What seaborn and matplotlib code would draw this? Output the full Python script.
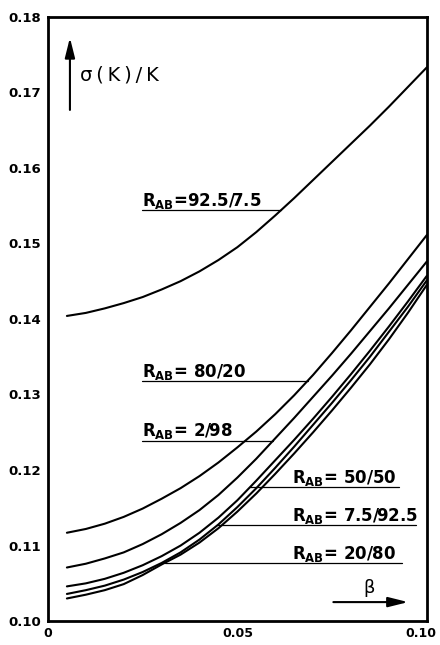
import matplotlib
matplotlib.use("Agg")
import matplotlib.pyplot as plt
import matplotlib.transforms as mtransforms
import numpy as np
import pandas as pd
import seaborn as sns

# beta grid and sigma(K)/K for each R_AB curve
BETA = [0.005, 0.010, 0.015, 0.020, 0.025, 0.030, 0.035, 0.040, 0.045, 0.050,
        0.055, 0.060, 0.065, 0.070, 0.075, 0.080, 0.085, 0.090, 0.095, 0.100]
R_92_5_7_5 = [0.1404, 0.1408, 0.1414, 0.1421, 0.1429, 0.1439, 0.1450, 0.1463, 0.1478, 0.1495,
              0.1515, 0.1537, 0.1560, 0.1584, 0.1608, 0.1632, 0.1656, 0.1681, 0.1707, 0.1733]
R_80_20 = [0.1117, 0.1122, 0.1129, 0.1138, 0.1149, 0.1162, 0.1176, 0.1192, 0.1210, 0.1230,
           0.1251, 0.1274, 0.1299, 0.1326, 0.1355, 0.1385, 0.1416, 0.1447, 0.1479, 0.1511]
R_2_98 = [0.1071, 0.1076, 0.1083, 0.1091, 0.1102, 0.1115, 0.1130, 0.1147, 0.1167, 0.1190,
          0.1215, 0.1242, 0.1269, 0.1297, 0.1325, 0.1354, 0.1384, 0.1414, 0.1445, 0.1476]
R_50_50 = [0.1046, 0.1050, 0.1056, 0.1064, 0.1074, 0.1086, 0.1100, 0.1117, 0.1137, 0.1160,
           0.1186, 0.1213, 0.1240, 0.1268, 0.1297, 0.1327, 0.1358, 0.1390, 0.1423, 0.1457]
R_7_5_92_5 = [0.1036, 0.1041, 0.1047, 0.1055, 0.1065, 0.1077, 0.1091, 0.1108, 0.1128, 0.1151,
              0.1176, 0.1203, 0.1231, 0.1260, 0.1289, 0.1319, 0.1350, 0.1383, 0.1416, 0.1451]
R_20_80 = [0.1030, 0.1035, 0.1041, 0.1049, 0.1061, 0.1075, 0.1088, 0.1104, 0.1123, 0.1145,
           0.1169, 0.1195, 0.1222, 0.1250, 0.1279, 0.1309, 0.1340, 0.1373, 0.1408, 0.1445]

CURVE_NAMES = ["92.5/7.5", "80/20", "2/98", "50/50", "7.5/92.5", "20/80"]
CURVES = [R_92_5_7_5, R_80_20, R_2_98, R_50_50, R_7_5_92_5, R_20_80]

# height (sigma/K) where each label's underline meets its curve
LABEL_Y = [0.1544, 0.1318, 0.1239, 0.1177, 0.1127, 0.1077]
LABEL_TEXT = [
    r"$\mathbf{R_{AB}}$=92.5/7.5",
    r"$\mathbf{R_{AB}}$= 80/20",
    r"$\mathbf{R_{AB}}$= 2/98",
    r"$\mathbf{R_{AB}}$= 50/50",
    r"$\mathbf{R_{AB}}$= 7.5/92.5",
    r"$\mathbf{R_{AB}}$= 20/80",
]
Y_TICKS = [0.10, 0.11, 0.12, 0.13, 0.14, 0.15, 0.16, 0.17, 0.18]
X_TICKS = [0.0, 0.01, 0.02, 0.03, 0.04, 0.05, 0.06, 0.07, 0.08, 0.09, 0.10]
X_TICK_LABELS = ["0", "", "", "", "", "0.05", "", "", "", "", "0.10"]

sns.set_theme(style="white")
plt.rcParams.update({
    "font.family": "DejaVu Sans",
    "mathtext.fontset": "dejavusans",
    "axes.unicode_minus": False,
})

rows = []
for name, vals in zip(CURVE_NAMES, CURVES):
    for b, v in zip(BETA, vals):
        rows.append({"beta": b, "ratio": v, "R_AB": name})
df = pd.DataFrame(rows)

fig = plt.figure(figsize=(4.4, 6.45), dpi=100)
ax = fig.add_axes([0.109, 0.037, 0.861, 0.937])

sns.lineplot(data=df, x="beta", y="ratio", hue="R_AB", palette=["black"] * 6,
             linewidth=1.5, legend=False, sort=True, estimator=None, ax=ax)

ax.set_xlim(0.0, 0.10)
ax.set_ylim(0.10, 0.18)
ax.set_xticks(X_TICKS)
ax.set_xticklabels(X_TICK_LABELS)
ax.set_yticks(Y_TICKS)
ax.set_yticklabels([f"{t:.2f}" for t in Y_TICKS])
ax.set_xlabel("")
ax.set_ylabel("")
ax.tick_params(axis="both", direction="in", length=5, width=1.5, color="black",
               labelsize=9.5, labelcolor="black")
ax.tick_params(axis="y", pad=5)
ax.tick_params(axis="x", pad=4.5, labelsize=9)
for lab in ax.get_xticklabels() + ax.get_yticklabels():
    lab.set_fontweight("bold")
# keep the last x label inside the canvas
last = ax.get_xticklabels()[-1]
last.set_transform(last.get_transform()
                   + mtransforms.ScaledTranslation(-4 / 72, 0, fig.dpi_scale_trans))
for sp in ax.spines.values():
    sp.set_color("black")
    sp.set_linewidth(2.0)

# labels with underlines reaching to the curve
left_start = 0.0249
right_start = 0.0643
right_ends = [None, None, None, 0.0926, 0.0971, 0.0934]
for i, (txt, y) in enumerate(zip(LABEL_TEXT, LABEL_Y)):
    meet = float(np.interp(y, CURVES[i], BETA))
    if right_ends[i] is None:
        x0, x1, tx = left_start, meet, left_start
    else:
        x0, x1, tx = meet, right_ends[i], right_start
    ax.plot([x0, x1], [y, y], color="black", linewidth=0.9)
    ax.annotate(txt, xy=(tx, y), xytext=(0, 3), textcoords="offset points",
                ha="left", va="baseline", fontsize=12, fontweight="bold", color="black")

# axis arrows
ax.annotate("", xy=(0.0058, 0.1776), xytext=(0.0058, 0.1673),
            arrowprops=dict(arrowstyle="-|>,head_length=1.0,head_width=0.25",
                            mutation_scale=12, lw=1.5, color="black"))
ax.text(0.0085, 0.1723, "σ\u2009(\u2009K\u2009)\u2009/\u2009K", fontsize=14,
        va="center", ha="left", color="black")
ax.annotate("", xy=(0.0958, 0.10252), xytext=(0.0746, 0.10252),
            arrowprops=dict(arrowstyle="-|>,head_length=1.0,head_width=0.25",
                            mutation_scale=12, lw=1.5, color="black"))
ax.text(0.0847, 0.1044, "β", fontsize=13, va="center", ha="center", color="black")

fig.savefig("out.png", dpi=100)
plt.close(fig)
